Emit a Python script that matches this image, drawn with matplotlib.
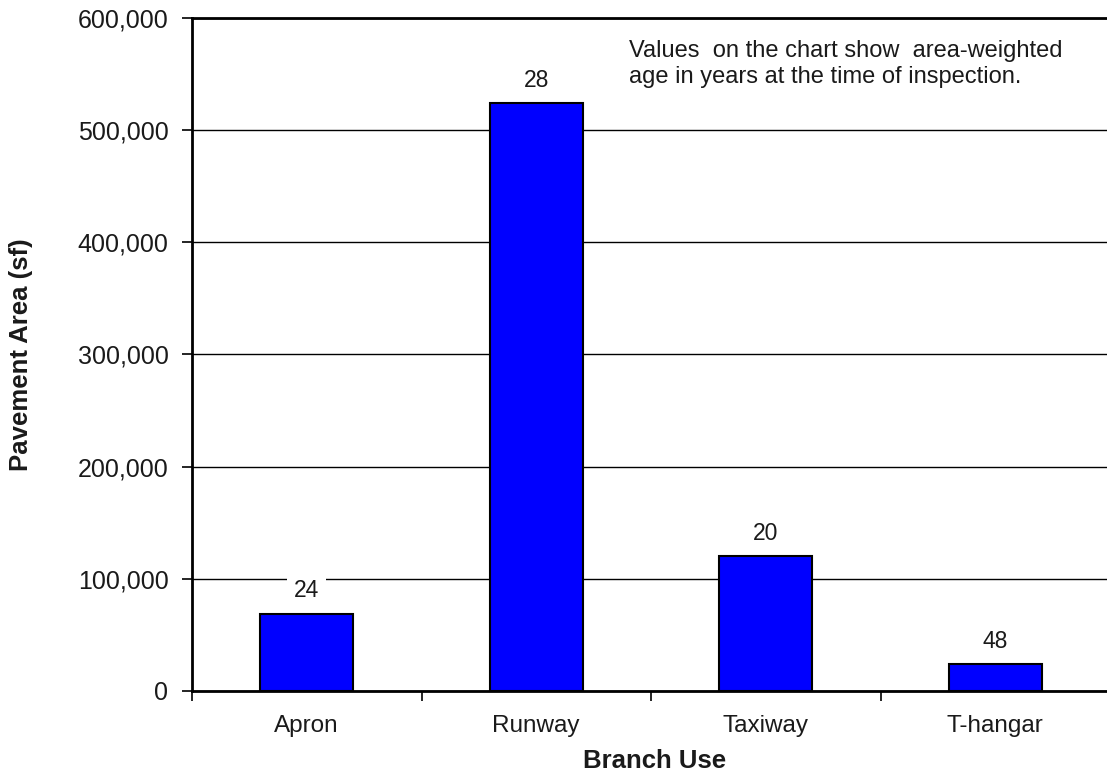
import matplotlib
matplotlib.use("Agg")
import matplotlib.pyplot as plt
from matplotlib.ticker import FuncFormatter, FixedLocator

plt.rcParams['font.family'] = ['Liberation Sans', 'DejaVu Sans']

categories = ["Apron", "Runway", "Taxiway", "T-hangar"]
areas = [69000, 524000, 120000, 24000]
ages = [24, 28, 20, 48]
yticks = [0, 100000, 200000, 300000, 400000, 500000, 600000]

fig = plt.figure(figsize=(11.07, 7.78), dpi=100)
ax = fig.add_axes([192/1107, 1-691/778, 918/1107, 673/778])

x = list(range(len(categories)))
ax.bar(x, areas, width=0.405, color="#0000FF", edgecolor="black", linewidth=1.5, zorder=3)
for xi, a, g in zip(x, areas, ages):
    ax.annotate(str(g), (xi, a), xytext=(0, 8), textcoords="offset points",
                ha="center", va="bottom", fontsize=16.5, color="#1a1a1a",
                bbox=dict(boxstyle="square,pad=0.3", fc="white", ec="none"), zorder=4)

ax.set_xlim(-0.5, len(categories) - 0.5)
ax.set_ylim(0, 600000)
ax.set_yticks(yticks)
ax.yaxis.set_major_formatter(FuncFormatter(lambda v, p: f"{int(v):,}"))
ax.grid(axis="y", color="black", linewidth=1.0, zorder=0)
ax.set_axisbelow(True)

ax.set_xticks(x)
ax.set_xticklabels(categories)
ax.xaxis.set_minor_locator(FixedLocator([i - 0.5 for i in range(len(categories) + 1)]))
ax.tick_params(axis="x", which="major", length=0, pad=17, labelsize=17.5, labelcolor="#1a1a1a")
ax.tick_params(axis="x", which="minor", length=7, width=1.2, direction="out")
ax.tick_params(axis="y", length=7, width=1.2, direction="out", labelsize=18, pad=10,
               labelcolor="#1a1a1a")

for s in ["left", "bottom", "top"]:
    ax.spines[s].set_linewidth(2.0)
ax.spines["right"].set_visible(False)

ax.set_xlabel("Branch Use", fontsize=18.5, fontweight="bold", color="#1a1a1a")
ax.xaxis.set_label_coords((655-192)/918, -(749-691)/673)
ax.set_ylabel("Pavement Area (sf)", fontsize=18.5, fontweight="bold", color="#1a1a1a")
ax.yaxis.set_label_coords((33-192)/918, 0.5)

fig.text(629/1107, 1-64/778, "Values  on the chart show  area-weighted\nage in years at the time of inspection.",
         ha="left", va="center", fontsize=17, color="#1a1a1a", linespacing=1.25)

fig.savefig("out.png", dpi=100, facecolor="white")
